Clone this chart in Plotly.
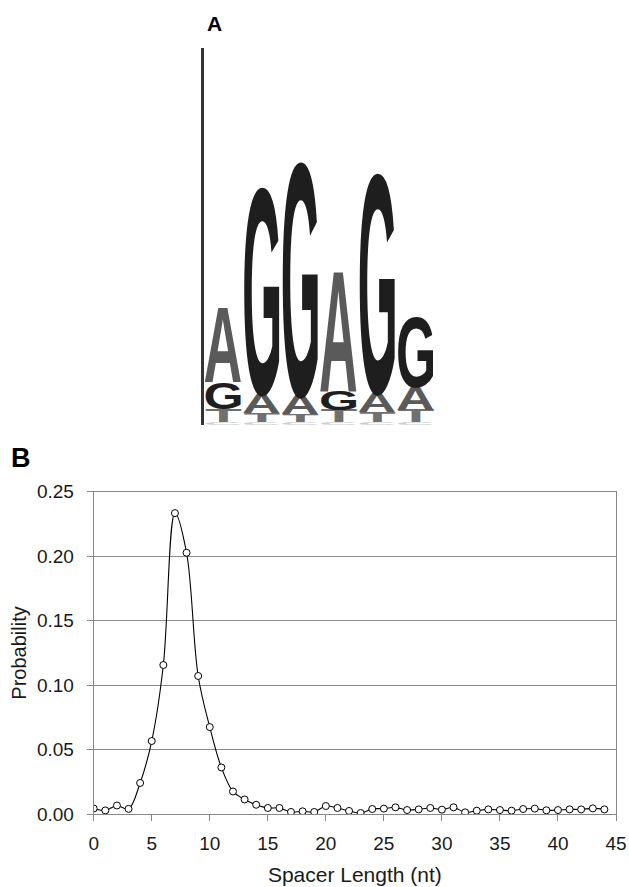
import json
import plotly.graph_objects as go

# ---------------- Panel B data ----------------
spacer_length = list(range(45))
probability = [0.0045, 0.0030, 0.0068, 0.0042, 0.0243, 0.0568, 0.1157, 0.2334, 0.2027, 0.1072,
               0.0676, 0.0363, 0.0177, 0.0115, 0.0074, 0.0049, 0.0049, 0.0018, 0.0023, 0.0018,
               0.0064, 0.0049, 0.0026, 0.0010, 0.0041, 0.0044, 0.0054, 0.0033, 0.0038, 0.0049,
               0.0036, 0.0054, 0.0015, 0.0028, 0.0038, 0.0033, 0.0028, 0.0041, 0.0044, 0.0031,
               0.0033, 0.0038, 0.0038, 0.0046, 0.0038]
y_ticks = [0.00, 0.05, 0.10, 0.15, 0.20, 0.25]
x_ticks = [0, 5, 10, 15, 20, 25, 30, 35, 40, 45]

# ---------------- Panel A data (sequence logo, bits) ----------------
logo_positions = [1, 2, 3, 4, 5, 6]
logo_letters = [["C", "T", "G", "A"],
                ["C", "T", "A", "G"],
                ["C", "T", "A", "G"],
                ["C", "T", "G", "A"],
                ["C", "T", "A", "G"],
                ["C", "T", "A", "G"]]
logo_bits = [[0.016, 0.070, 0.140, 0.400],
             [0.016, 0.050, 0.100, 1.095],
             [0.016, 0.040, 0.100, 1.240],
             [0.016, 0.065, 0.100, 0.640],
             [0.016, 0.055, 0.100, 1.165],
             [0.016, 0.065, 0.120, 0.370]]
letter_colors = {"G": "#1e1e1e", "A": "#5a5a5a", "T": "#707070", "C": "#cfcfcf"}

FONT = "Liberation Sans, Arial, sans-serif"

fig = go.Figure()
fig.add_trace(go.Scatter(
    x=spacer_length, y=probability, mode="lines+markers",
    line=dict(color="black", width=1.1, shape="spline", smoothing=1.0),
    marker=dict(symbol="circle", size=7, color="white", line=dict(color="black", width=1)),
    xaxis="x", yaxis="y", hoverinfo="x+y"))
fig.add_trace(go.Scatter(x=[], y=[], xaxis="x2", yaxis="y2", hoverinfo="skip"))

annotations = []
boxes = []
half_w = 0.47
for pos, letters, bits in zip(logo_positions, logo_letters, logo_bits):
    cum = 0.0
    for letter, h in zip(letters, bits):
        idx = len(annotations)
        annotations.append(dict(
            x=pos, y=cum + h / 2, xref="x2", yref="y2", text=letter, showarrow=False,
            font=dict(family=FONT, size=40, color=letter_colors[letter], weight="bold")))
        boxes.append([idx, pos - half_w, pos + half_w, cum, cum + h])
        cum += h

annotations.append(dict(x=214 / 629, y=1 - 23 / 887, xref="paper", yref="paper", text="A",
                        showarrow=False, xanchor="center", yanchor="middle",
                        font=dict(family=FONT, size=21, color="black", weight="bold")))
annotations.append(dict(x=21 / 629, y=1 - 458 / 887, xref="paper", yref="paper", text="B",
                        showarrow=False, xanchor="center", yanchor="middle",
                        font=dict(family=FONT, size=27, color="black", weight="bold")))

fig.update_layout(
    width=629, height=887, margin=dict(l=0, r=0, t=0, b=0, autoexpand=False),
    paper_bgcolor="white", plot_bgcolor="white", showlegend=False,
    font=dict(family=FONT, size=19, color="#1a1a1a"),
    annotations=annotations,
    xaxis=dict(domain=[93.7 / 629, 616 / 629], anchor="y", range=[0, 45], automargin=False,
               tickvals=x_ticks, ticks="outside", ticklen=6, tickcolor="#888",
               showline=True, linecolor="#888", linewidth=1, mirror=True,
               showgrid=False, zeroline=False, ticklabelstandoff=6,
               title=dict(text="Spacer Length (nt)", standoff=14, font=dict(size=21))),
    yaxis=dict(domain=[1 - 814.3 / 887, 1 - 491.7 / 887], anchor="x", range=[0, 0.25],
               automargin=False,
               tickvals=y_ticks, tickformat=".2f", ticks="outside", ticklen=6, tickcolor="#888",
               showline=True, linecolor="#888", linewidth=1, mirror=True,
               showgrid=True, gridcolor="#8a8a8a", gridwidth=1, zeroline=False,
               ticklabelstandoff=9,
               title=dict(text="Probability", standoff=4, font=dict(size=20))),
    xaxis2=dict(domain=[203.75 / 629, 434.75 / 629], anchor="y2", range=[0.5, 6.5],
                automargin=False,
                showline=False, showticklabels=False, showgrid=False, zeroline=False, ticks=""),
    yaxis2=dict(domain=[1 - 425 / 887, 1 - 48 / 887], anchor="x2", range=[0, 2],
                automargin=False,
                showline=True, linecolor="#333", linewidth=2.5, showticklabels=False,
                showgrid=False, zeroline=False, ticks=""),
)

js = """
(function(){
document.body.style.margin = '0';
document.body.style.padding = '0';
document.documentElement.style.overflow = 'hidden';
var gd = document.getElementById('{plot_id}');
var boxes = BOXES;
function apply(){
  var fl = gd._fullLayout, xa = fl.xaxis2, ya = fl.yaxis2;
  var ctx = document.createElement('canvas').getContext('2d');
  boxes.forEach(function(b){
    var g = gd.querySelector('g.annotation[data-index="' + b[0] + '"]');
    if(!g) return;
    var t = g.querySelector('text.annotation-text');
    if(!t) return;
    t.removeAttribute('transform');
    var st = window.getComputedStyle(t);
    ctx.font = st.fontWeight + ' ' + st.fontSize + ' ' + st.fontFamily;
    var m = ctx.measureText(t.textContent);
    var bb = t.getBBox();
    var fs = parseFloat(st.fontSize);
    var asc = (m.fontBoundingBoxAscent !== undefined) ? m.fontBoundingBoxAscent : 0.905 * fs;
    var base = bb.y + asc;
    var iL = bb.x - m.actualBoundingBoxLeft, iR = bb.x + m.actualBoundingBoxRight;
    var iT = base - m.actualBoundingBoxAscent, iB = base + m.actualBoundingBoxDescent;
    var X0 = xa._offset + xa.c2p(b[1]), X1 = xa._offset + xa.c2p(b[2]);
    var Yb = ya._offset + ya.c2p(b[3]), Yt = ya._offset + ya.c2p(b[4]);
    var P = t.parentNode.getCTM();
    var lx0 = (X0 - P.e) / P.a, lx1 = (X1 - P.e) / P.a;
    var lyt = (Yt - P.f) / P.d, lyb = (Yb - P.f) / P.d;
    var sx = (lx1 - lx0) / (iR - iL), sy = (lyb - lyt) / (iB - iT);
    t.setAttribute('transform', 'translate(' + lx0 + ',' + lyt + ') scale(' + sx + ',' + sy + ') translate(' + (-iL) + ',' + (-iT) + ')');
  });
}
apply();
if (gd.on) gd.on('plotly_afterplot', apply);
})();
""".replace("BOXES", json.dumps(boxes))

fig.write_html("out.html", post_script=js, config={"displayModeBar": False})
